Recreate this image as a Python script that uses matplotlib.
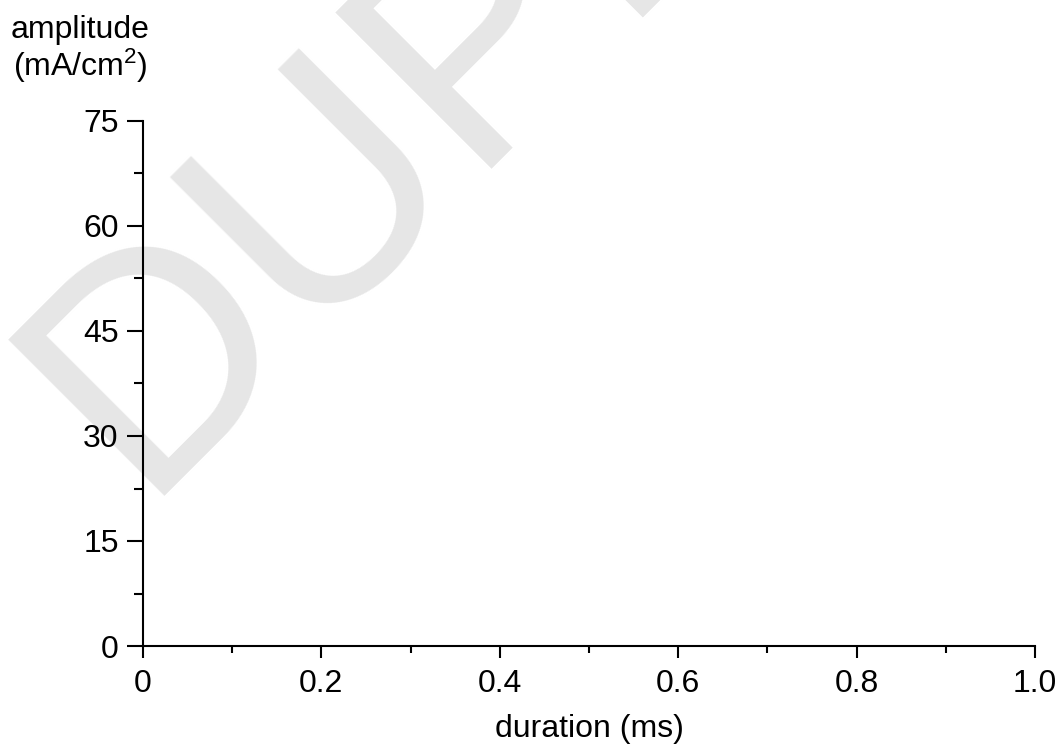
import matplotlib
matplotlib.use("Agg")
import matplotlib.pyplot as plt
from matplotlib.ticker import FixedLocator

plt.rcParams["font.family"] = ["Liberation Sans", "DejaVu Sans"]
plt.rcParams["mathtext.fontset"] = "custom"
plt.rcParams["mathtext.rm"] = "Liberation Sans"
plt.rcParams["mathtext.it"] = "Liberation Sans:italic"

# axis setup (no data series drawn in the original)
X_LIM = [0.0, 1.0]
Y_LIM = [0, 75]
X_TICKS = [0, 0.2, 0.4, 0.6, 0.8, 1.0]
X_TICK_LABELS = ["0", "0.2", "0.4", "0.6", "0.8", "1.0"]
X_MINOR = [0.1, 0.3, 0.5, 0.7, 0.9]
Y_TICKS = [0, 15, 30, 45, 60, 75]
Y_MINOR = [7.5, 22.5, 37.5, 52.5, 67.5]
WATERMARK = "DUPLICATE"

FS = 23
W, H = 1063, 747
fig = plt.figure(figsize=(W / 100, H / 100), dpi=100)
ax = fig.add_axes([143 / W, 1 - 646 / H, (1035 - 143) / W, (646 - 121) / H])
ax.patch.set_alpha(0)

ax.set_xlim(*X_LIM)
ax.set_ylim(*Y_LIM)
ax.set_xticks(X_TICKS)
ax.set_xticklabels(X_TICK_LABELS)
ax.set_yticks(Y_TICKS)
ax.xaxis.set_minor_locator(FixedLocator(X_MINOR))
ax.yaxis.set_minor_locator(FixedLocator(Y_MINOR))

for s in ["top", "right"]:
    ax.spines[s].set_visible(False)
for s in ["left", "bottom"]:
    ax.spines[s].set_linewidth(1.5)

ax.tick_params(axis="x", which="major", length=8.6, width=1.5, labelsize=FS, pad=8)
ax.tick_params(axis="x", which="minor", length=4.7, width=1.5)
ax.tick_params(axis="y", which="major", length=11.5, width=1.5, labelsize=FS, pad=6)
ax.tick_params(axis="y", which="minor", length=6.5, width=1.5)

ax.set_xlabel("duration (ms)", fontsize=FS, labelpad=11)

fig.text(80 / W, 1 - 38 / H, "amplitude", fontsize=FS, ha="center", va="baseline")
fig.text(80 / W, 1 - 76 / H, r"(mA/cm$^{\mathrm{2}}$)", fontsize=FS, ha="center", va="baseline")

# light grey watermark behind the axes
fig.text(138.5 / W, 1 - 495.5 / H, WATERMARK, fontsize=231, color="#e6e6e6",
         rotation=45, rotation_mode="anchor", ha="left", va="baseline", zorder=-1)

fig.savefig("out.png", dpi=100)
